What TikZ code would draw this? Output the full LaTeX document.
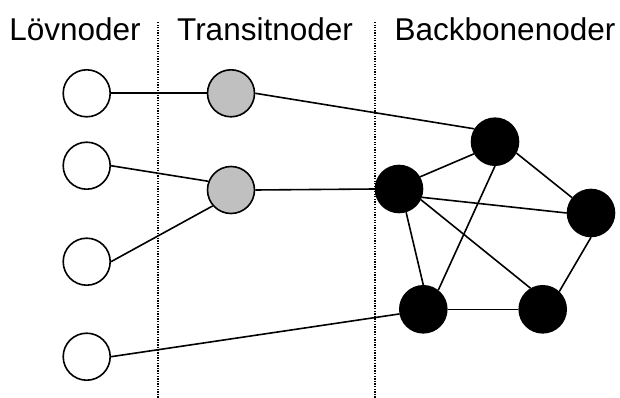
\documentclass[tikz,border=0pt]{standalone}
\usepackage{fontspec}
\setmainfont{Liberation Sans}
\definecolor{transgray}{RGB}{192,192,192}
\begin{document}
\begin{tikzpicture}[x=1pt,y=-1pt,
  nd/.style={circle,draw=black,line width=1.6pt,minimum size=47pt,inner sep=0pt},
  leaf/.style={nd,fill=white},
  trans/.style={nd,fill=transgray},
  bb/.style={nd,fill=black},
  edge/.style={line width=1.6pt},
  sep/.style={line width=1.3pt,dash pattern=on 1.3pt off 1.3pt},
  lab/.style={font=\fontsize{31.5}{36}\selectfont,inner sep=0pt,anchor=base}]
\useasboundingbox (0,0) rectangle (620,398);
% separators
\coordinate (s1a) at (158,22); \coordinate (s1b) at (158,398);
\coordinate (s2a) at (375,22); \coordinate (s2b) at (375,398);
\draw[sep] (s1a) -- (s1b);
\draw[sep] (s2a) -- (s2b);
% labels
\node[lab] (t1) at (75,41) {Lövnoder};
\node[lab] (t2) at (265,41) {Transitnoder};
\node[lab] (t3) at (505,41) {Backbonenoder};
% leaf nodes
\node[leaf] (l1) at (86.7,93.3) {};
\node[leaf] (l2) at (86.7,165.7) {};
\node[leaf] (l3) at (86.7,261.7) {};
\node[leaf] (l4) at (86.7,356.7) {};
% transit nodes
\node[trans] (tr1) at (231,93.3) {};
\node[trans] (tr2) at (231,190) {};
% backbone nodes
\node[bb] (bt) at (495,141.7) {};
\node[bb] (bl) at (399,189) {};
\node[bb] (br) at (591,213) {};
\node[bb] (bbl) at (423.3,309.3) {};
\node[bb] (bbr) at (542.7,309.3) {};
% edges
\draw[edge] (l1.east) -- (tr1.west);
\draw[edge] (tr1.east) -- (bt.148);
\draw[edge] (l2.east) -- (tr2.159);
\draw[edge] (l3.east) -- (tr2.221);
\draw[edge] (tr2.east) -- (bl.west);
\draw[edge] (l4.east) -- (bbl.191);
\draw[edge] (bl.30) -- (bt.210);
\draw[edge] (bt.270) -- (bbl.52);
\draw[edge] (bl.340) -- (br.180);
\draw[edge] (bl.334) -- (bbr.120);
\draw[edge] (bl.287) -- (bbl.90);
\draw[edge] (bt.332) -- (br.141);
\draw[edge] (br.270) -- (bbr.47);
\draw[edge] (bbl.east) -- (bbr.west);
\end{tikzpicture}
\end{document}
